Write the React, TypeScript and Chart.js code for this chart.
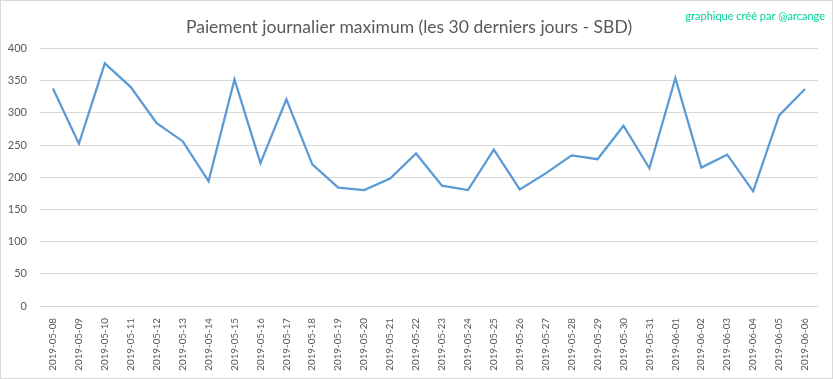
import React, { useEffect, useRef } from "react";
import { Chart, registerables } from "chart.js";

Chart.register(...registerables);

const categories = [
  "2019-05-08", "2019-05-09", "2019-05-10", "2019-05-11", "2019-05-12", "2019-05-13",
  "2019-05-14", "2019-05-15", "2019-05-16", "2019-05-17", "2019-05-18", "2019-05-19",
  "2019-05-20", "2019-05-21", "2019-05-22", "2019-05-23", "2019-05-24", "2019-05-25",
  "2019-05-26", "2019-05-27", "2019-05-28", "2019-05-29", "2019-05-30", "2019-05-31",
  "2019-06-01", "2019-06-02", "2019-06-03", "2019-06-04", "2019-06-05", "2019-06-06",
];

const maxPayout = [
  338, 252, 377, 340, 284, 256, 194, 352, 222, 321, 220, 184,
  180, 198, 237, 187, 180, 243, 181, 206, 234, 228, 280, 214,
  354, 215, 235, 178, 296, 337,
];

const yTicks = { min: 0, max: 400, step: 50 };

const titleText = "Paiement journalier maximum (les 30 derniers jours - SBD)";
const creditText = "graphique créé par @arcange";

const framePlugin = {
  id: "frame",
  beforeDraw(chart: any) {
    const { ctx, width, height } = chart;
    ctx.save();
    ctx.fillStyle = "#ffffff";
    ctx.fillRect(0, 0, width, height);
    ctx.strokeStyle = "#d9d9d9";
    ctx.lineWidth = 1;
    ctx.strokeRect(0.5, 0.5, width - 1, height - 1);
    ctx.restore();
  },
  afterDraw(chart: any) {
    const { ctx } = chart;
    ctx.save();
    ctx.font = "11px Lato, 'Open Sans', sans-serif";
    ctx.fillStyle = "#00d19b";
    ctx.textAlign = "right";
    ctx.textBaseline = "middle";
    ctx.fillText(creditText, 825, 16);
    ctx.restore();
  },
};

export default function App() {
  const ref = useRef<HTMLCanvasElement>(null);

  useEffect(() => {
    if (!ref.current) return;
    const chart = new Chart(ref.current, {
      type: "line",
      data: {
        labels: categories,
        datasets: [
          {
            data: maxPayout,
            borderColor: "#5b9bd5",
            borderWidth: 2.25,
            pointRadius: 0,
            tension: 0,
            fill: false,
          },
        ],
      },
      options: {
        animation: false,
        responsive: false,
        layout: { padding: { top: 0, right: 15, bottom: 0, left: 0 } },
        plugins: {
          legend: { display: false },
          tooltip: { enabled: false },
          title: {
            display: true,
            text: titleText,
            color: "#595959",
            font: { family: "Lato, 'Open Sans', sans-serif", size: 17.5, weight: "normal" },
            padding: { top: 16.5, bottom: 11 },
          },
        },
        scales: {
          x: {
            offset: true,
            grid: { display: false },
            border: { display: false },
            ticks: {
              color: "#595959",
              font: { family: "Lato, 'Open Sans', sans-serif", size: 9.8 },
              minRotation: 90,
              maxRotation: 90,
              autoSkip: false,
              padding: 4,
            },
            afterFit(scale: any) {
              scale.height = 73;
            },
          },
          y: {
            min: yTicks.min,
            max: yTicks.max,
            grid: { color: "#d9d9d9", drawTicks: false, lineWidth: 1 },
            border: { display: false },
            ticks: {
              stepSize: yTicks.step,
              color: "#595959",
              font: { family: "Lato, 'Open Sans', sans-serif", size: 11 },
              padding: 13,
            },
            afterFit(scale: any) {
              scale.width = 40;
            },
          },
        },
      },
      plugins: [framePlugin],
    });
    return () => chart.destroy();
  }, []);

  return (
    <div style={{ position: "fixed", left: 0, top: 0, width: 833, height: 379 }}>
      <canvas ref={ref} width={833} height={379} />
    </div>
  );
}
